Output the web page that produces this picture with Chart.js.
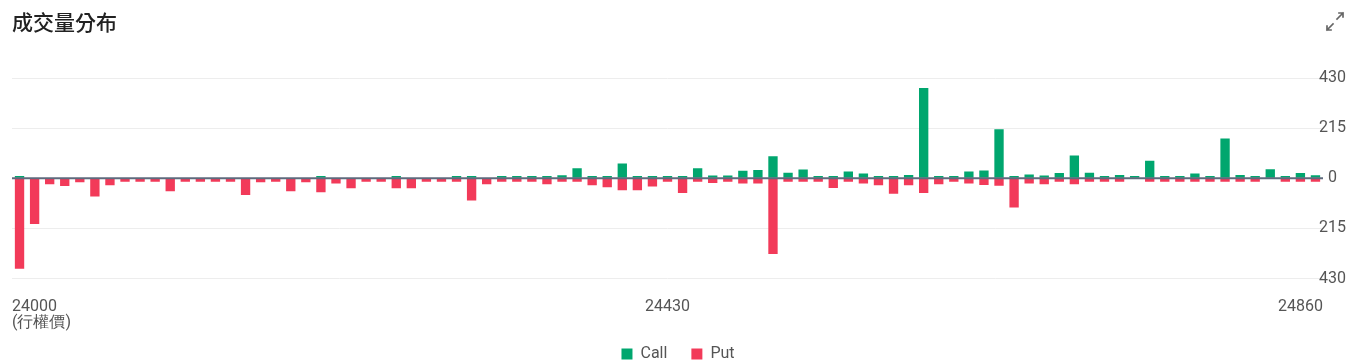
<!DOCTYPE html>
<html>
<head>
<meta charset="utf-8">
<script src="https://cdn.jsdelivr.net/npm/chart.js@4.4.0/dist/chart.umd.min.js"></script>
<style>
html,body{margin:0;padding:0;background:#fff;overflow:hidden;width:1356px;height:364px}
#wrap{position:relative;width:1356px;height:372px}
#title{position:absolute;left:12px;top:11px;font:500 21px/21px "Noto Sans CJK TC",sans-serif;color:#222;white-space:nowrap}
#icon{position:absolute;left:1322px;top:10px}
canvas{position:absolute;left:0;top:0}
</style>
</head>
<body>
<div id="wrap">
<canvas id="c" width="1356" height="372" style="width:1356px;height:372px"></canvas>
<div id="title">成交量分布</div>
<svg id="icon" width="26" height="26" viewBox="0 0 26 26" fill="none" stroke="#666" stroke-width="1.7" stroke-linecap="square">
  <path d="M15 9 L21 3 M17 3 L21 3 L21 7"/>
  <path d="M11 14 L5 20 M9 20 L5 20 L5 16"/>
</svg>
</div>
<script>
const strikes = [
 '24000','24010','24020','24030','24040','24050','24060','24070','24080','24090',
 '24100','24110','24120','24130','24140','24150','24160','24170','24180','24190',
 '24200','24210','24220','24230','24240','24250','24260','24270','24280','24290',
 '24300','24310','24320','24330','24340','24350','24360','24370','24380','24390',
 '24400','24410','24420','24430','24440','24450','24460','24470','24480','24490',
 '24500','24510','24520','24530','24540','24550','24560','24570','24580','24590',
 '24600','24610','24620','24630','24640','24650','24660','24670','24680','24690',
 '24700','24710','24720','24730','24740','24750','24760','24770','24780','24790',
 '24800','24810','24820','24830','24840','24850','24860'
];
const callVolumes = [
 10,0,0,0,0,0,0,0,0,0,
 0,0,0,0,0,0,0,0,0,0,
 10,0,0,0,0,10,0,0,0,10,
 10,0,10,10,10,10,13,43,10,10,
 63,10,10,10,10,43,12,12,32,35,
 94,24,37,10,10,29,20,10,10,14,
 387,10,10,29,33,210,10,16,12,23,
 98,24,10,14,10,75,10,10,20,10,
 171,14,10,39,10,22,13
];
const putVolumes = [
 388,196,26,33,17,78,30,15,15,15,
 56,15,15,15,15,72,17,15,56,17,
 60,22,43,15,15,43,43,15,15,15,
 95,26,15,15,15,26,15,15,30,39,
 52,52,35,15,63,15,20,15,23,23,
 325,15,15,15,42,15,22,30,66,30,
 63,26,15,22,29,32,125,22,26,15,
 26,15,15,15,0,15,15,15,15,15,
 15,15,15,0,15,15,15
];
const yTickValues = [-430,-215,0,215,430];
const shownStrikes = ['24000','24430','24860'];
const strikeAxisTitle = '(行權價)';
const seriesNames = ['Call','Put'];

const GREEN = '#00a66e';
const RED = '#f23a59';
const TEXT = '#555';

const zeroLine = {
  id: 'zeroLine',
  afterDatasetsDraw(chart) {
    const {ctx, chartArea: a, scales: {y}} = chart;
    const py = y.getPixelForValue(0);
    ctx.save();
    ctx.strokeStyle = '#5f6a7d';
    ctx.lineWidth = 2;
    ctx.beginPath();
    ctx.moveTo(a.left, py);
    ctx.lineTo(a.right, py);
    ctx.stroke();
    ctx.restore();
  }
};

new Chart(document.getElementById('c'), {
  type: 'bar',
  data: {
    labels: strikes,
    datasets: [
      {label: seriesNames[0], data: callVolumes, backgroundColor: GREEN, borderWidth: 0,
       categoryPercentage: 1, barPercentage: 0.62},
      {label: seriesNames[1], data: putVolumes.map(v => -v), backgroundColor: RED, borderWidth: 0,
       categoryPercentage: 1, barPercentage: 0.62}
    ]
  },
  options: {
    responsive: false,
    animation: false,
    layout: {padding: {left: -13, right: -13, top: 78, bottom: 0}},
    plugins: {
      title: {display: false},
      tooltip: {enabled: false},
      legend: {
        position: 'bottom',
        labels: {boxWidth: 11, boxHeight: 11, padding: 24, color: TEXT,
                 font: {family: 'Roboto', size: 16}}
      }
    },
    scales: {
      x: {type: 'category', stacked: true, display: false, offset: true},
      x2: {
        type: 'category', labels: strikes, position: 'bottom', offset: false,
        grid: {display: false}, border: {display: false},
        title: {display: true, text: strikeAxisTitle, align: 'start', color: TEXT,
                font: {family: 'Roboto', size: 16}, padding: {top: 0, bottom: -11}},
        ticks: {
          autoSkip: false, maxRotation: 0, minRotation: 0, align: 'inner', padding: 11,
          color: TEXT, font: {family: 'Roboto', size: 16},
          callback: (v, i) => shownStrikes.includes(strikes[i]) ? strikes[i] : null
        },
        afterFit(s) { s.height = 43.5; s.paddingLeft = 12; }
      },
      y: {
        position: 'right', stacked: true,
        min: yTickValues[0], max: yTickValues[yTickValues.length - 1],
        afterBuildTicks(s) { s.ticks = yTickValues.map(v => ({value: v})); },
        grid: {color: c => (c.tick && c.tick.value === 0) ? 'rgba(0,0,0,0)' : '#ededed', drawTicks: false},
        border: {display: false},
        ticks: {mirror: true, crossAlign: 'center', padding: 23, color: TEXT,
                font: {family: 'Roboto', size: 16}, callback: v => Math.abs(v)}
      }
    }
  },
  plugins: [zeroLine]
});
</script>
</body>
</html>
